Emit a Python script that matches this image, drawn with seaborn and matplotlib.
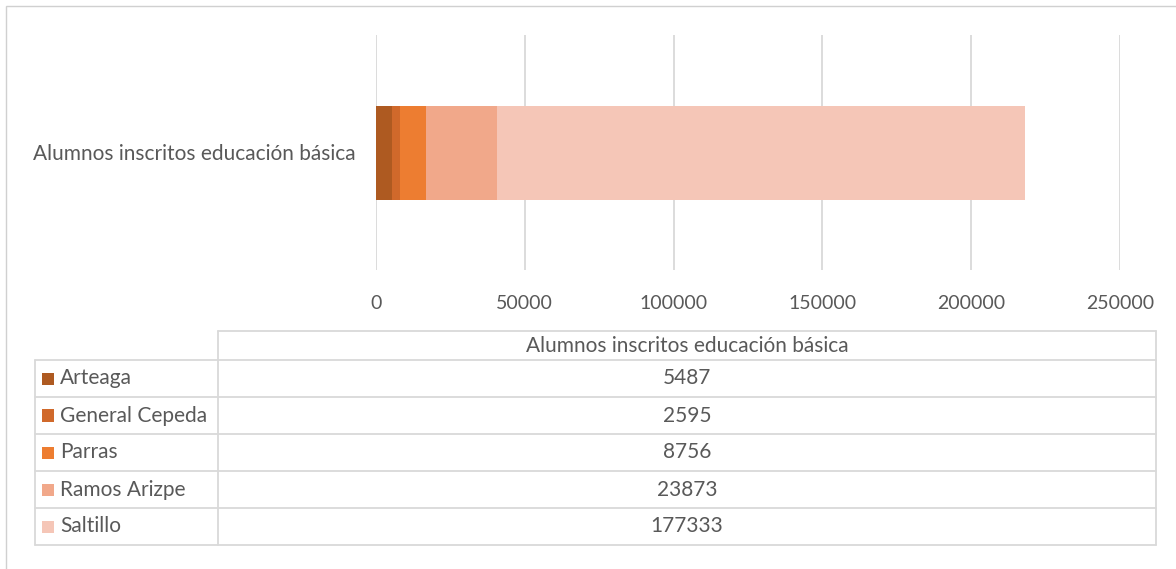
import numpy as np
import pandas as pd
import seaborn as sns
import matplotlib.pyplot as plt
from matplotlib.patches import Rectangle
from matplotlib.lines import Line2D

#######################################################################
#  DATA
#######################################################################
category = "Alumnos inscritos educación básica"
municipios = ["Arteaga", "General Cepeda", "Parras", "Ramos Arizpe", "Saltillo"]
alumnos = [5487, 2595, 8756, 23873, 177333]
colores = ["#AE5A21", "#D0692B", "#ED7D31", "#F1A88A", "#F5C6B7"]
xticks = [0, 50000, 100000, 150000, 200000, 250000]

W, H = 1176, 569
TXT = "#595959"
GRID = "#D9D9D9"

sns.set_theme(style="white")
plt.rcParams['font.family'] = ['Lato', 'DejaVu Sans']

fig = plt.figure(figsize=(W / 100, H / 100), dpi=100)

def fx(px):
    return px / W

def fy(py):
    return 1 - py / H

# frame of the chart area
fig.add_artist(Rectangle((fx(6), fy(H + 5)), 1.2, fy(6) - fy(H + 5),
                         transform=fig.transFigure, fill=False,
                         edgecolor="#D0D0D0", linewidth=1))

#######################################################################
#  STACKED BAR (drawn as overlaid cumulative bars)
#######################################################################
ax = fig.add_axes([fx(376), fy(270), fx(1120) - fx(376), fy(35) - fy(270)])
df = pd.DataFrame({"municipio": municipios, "alumnos": alumnos})
df["acum"] = df["alumnos"].cumsum()
df["cat"] = category

for i in range(len(df) - 1, -1, -1):
    sns.barplot(data=df.iloc[[i]], x="acum", y="cat", orient="h",
                color=colores[i], width=0.4, ax=ax, zorder=3,
                saturation=1, linewidth=0)

ax.set_xlim(0, 250000)
ax.set_ylim(0.5, -0.5)
ax.set_xticks(xticks)
ax.set_xticklabels([str(t) for t in xticks])
ax.grid(axis="x", color=GRID, linewidth=1.3, zorder=0)
ax.set_axisbelow(True)
for s in ax.spines.values():
    s.set_visible(False)
ax.tick_params(axis="x", colors=TXT, labelsize=14, length=0, pad=18)
ax.tick_params(axis="y", colors=TXT, labelsize=15, length=0, pad=15)
ax.set_xlabel("")
ax.set_ylabel("")

#######################################################################
#  DATA TABLE
#######################################################################
tx0, tx1, tx2 = 35, 218, 1156
ty_head, ty0 = 331, 360
row_h = 37
ty_end = ty0 + row_h * len(municipios)
fs_tab = 15

def hline(x0, x1, y):
    fig.add_artist(Line2D([fx(x0), fx(x1)], [fy(y), fy(y)], color=GRID,
                          linewidth=1.3, transform=fig.transFigure))

def vline(x, y0, y1):
    fig.add_artist(Line2D([fx(x), fx(x)], [fy(y0), fy(y1)], color=GRID,
                          linewidth=1.3, transform=fig.transFigure))

hline(tx1, tx2, ty_head)
vline(tx1, ty_head, ty_end)
vline(tx2, ty_head, ty_end)
vline(tx0, ty0, ty_end)
for r in range(len(municipios) + 1):
    hline(tx0, tx2, ty0 + r * row_h)

fig.text(fx((tx1 + tx2) / 2), fy((ty_head + ty0) / 2 + 1), category,
         ha="center", va="center", color=TXT, fontsize=fs_tab)

for r, (m, v, c) in enumerate(zip(municipios, alumnos, colores)):
    yc = ty0 + r * row_h + row_h / 2
    fig.add_artist(Rectangle((fx(42), fy(yc + 6)), fx(54) - fx(42), fy(yc - 6) - fy(yc + 6),
                             transform=fig.transFigure, facecolor=c, edgecolor="none"))
    fig.text(fx(60), fy(yc), m, ha="left", va="center", color=TXT, fontsize=fs_tab)
    fig.text(fx((tx1 + tx2) / 2), fy(yc), str(v), ha="center", va="center",
             color=TXT, fontsize=fs_tab)

fig.savefig("out.png", dpi=100)
